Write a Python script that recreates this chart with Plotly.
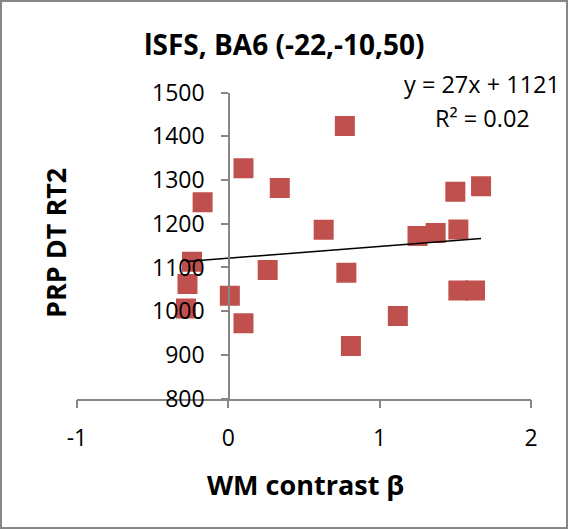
import numpy as np
import plotly.graph_objects as go

# WM contrast beta vs PRP DT RT2, one point per subject
wm_beta = [-0.17, 0.10, 0.34, 0.26, -0.24, -0.27, -0.28, 0.01, 0.10, 0.77, 0.63,
           0.78, 1.25, 1.37, 1.52, 1.50, 1.67, 1.52, 1.63, 1.12, 0.81]
rt2 = [1249, 1327, 1282, 1094, 1113, 1062, 1006, 1035, 972, 1424, 1186,
       1088, 1172, 1179, 1187, 1273, 1286, 1047, 1047, 989, 920]

# linear trendline as printed on the chart
slope = 27
intercept = 1121
eq_text = 'y = 27x + 1121'
r2_text = 'R² = 0.02'

x_ticks = [-1, 0, 1, 2]
x_labels = ['-1', '0', '1', '2']
y_ticks = [800, 900, 1000, 1100, 1200, 1300, 1400, 1500]

W, H = 568, 529
FONT = 'Open Sans'
AX = '#868686'

def px(x):
    return x / W

def py(y):
    return 1 - y / H

fit_x = np.array([min(wm_beta), max(wm_beta)])
fit_y = slope * fit_x + intercept

fig = go.Figure()

fig.add_trace(go.Scatter(
    x=wm_beta, y=rt2, mode='markers',
    marker=dict(symbol='square', size=20, color='#C0504D', line=dict(width=0)),
    hoverinfo='x+y'
))
fig.add_trace(go.Scatter(
    x=fit_x, y=fit_y, mode='lines',
    line=dict(color='black', width=1.5),
    hoverinfo='skip'
))

fig.update_layout(
    template='none',
    width=W, height=H,
    margin=dict(l=0, r=0, t=0, b=0, pad=0),
    paper_bgcolor='white', plot_bgcolor='white',
    showlegend=False,
    font=dict(family=FONT, size=23, color='black'),
    xaxis=dict(
        domain=[px(77), px(531)], range=[-1, 2],
        tickvals=x_ticks, ticktext=x_labels,
        ticks='outside', ticklen=8, tickwidth=1.5, tickcolor=AX,
        showline=True, linecolor=AX, linewidth=1.5,
        showgrid=False, zeroline=False, automargin=False,
        ticklabelstandoff=10,
    ),
    yaxis=dict(
        domain=[py(398.5), py(92.7)], range=[800, 1500],
        anchor='free', position=px(229),
        tickvals=y_ticks, ticks='outside', ticklen=7, tickwidth=1.5, tickcolor=AX,
        ticklabelstandoff=12,
        showline=True, linecolor=AX, linewidth=1.5,
        showgrid=False, zeroline=False, automargin=False,
    ),
)

# title, axis titles and trendline label
fig.add_annotation(text='<b>lSFS, BA6 (-22,-10,50)</b>', x=px(284), y=py(44),
                   xref='paper', yref='paper', showarrow=False,
                   xanchor='center', yanchor='middle', font=dict(size=28))
fig.add_annotation(text='<b>WM contrast β</b>', x=px(305), y=py(484),
                   xref='paper', yref='paper', showarrow=False,
                   xanchor='center', yanchor='middle', font=dict(size=27))
fig.add_annotation(text='<b>PRP DT RT2</b>', x=px(56), y=py(243), textangle=-90,
                   xref='paper', yref='paper', showarrow=False,
                   xanchor='center', yanchor='middle', font=dict(size=27))
fig.add_annotation(text=eq_text, x=px(482), y=py(84),
                   xref='paper', yref='paper', showarrow=False,
                   xanchor='center', yanchor='middle', font=dict(size=23.5))
fig.add_annotation(text=r2_text, x=px(482), y=py(118),
                   xref='paper', yref='paper', showarrow=False,
                   xanchor='center', yanchor='middle', font=dict(size=23.5))

# chart border
fig.add_shape(type='rect', xref='paper', yref='paper',
              x0=px(1), x1=px(567), y0=py(528), y1=py(1),
              line=dict(color=AX, width=2))

# drop the default page margin so the figure fills the window
fig.write_html("out.html", config={'displayModeBar': False},
               post_script="document.body.style.margin='0';")
